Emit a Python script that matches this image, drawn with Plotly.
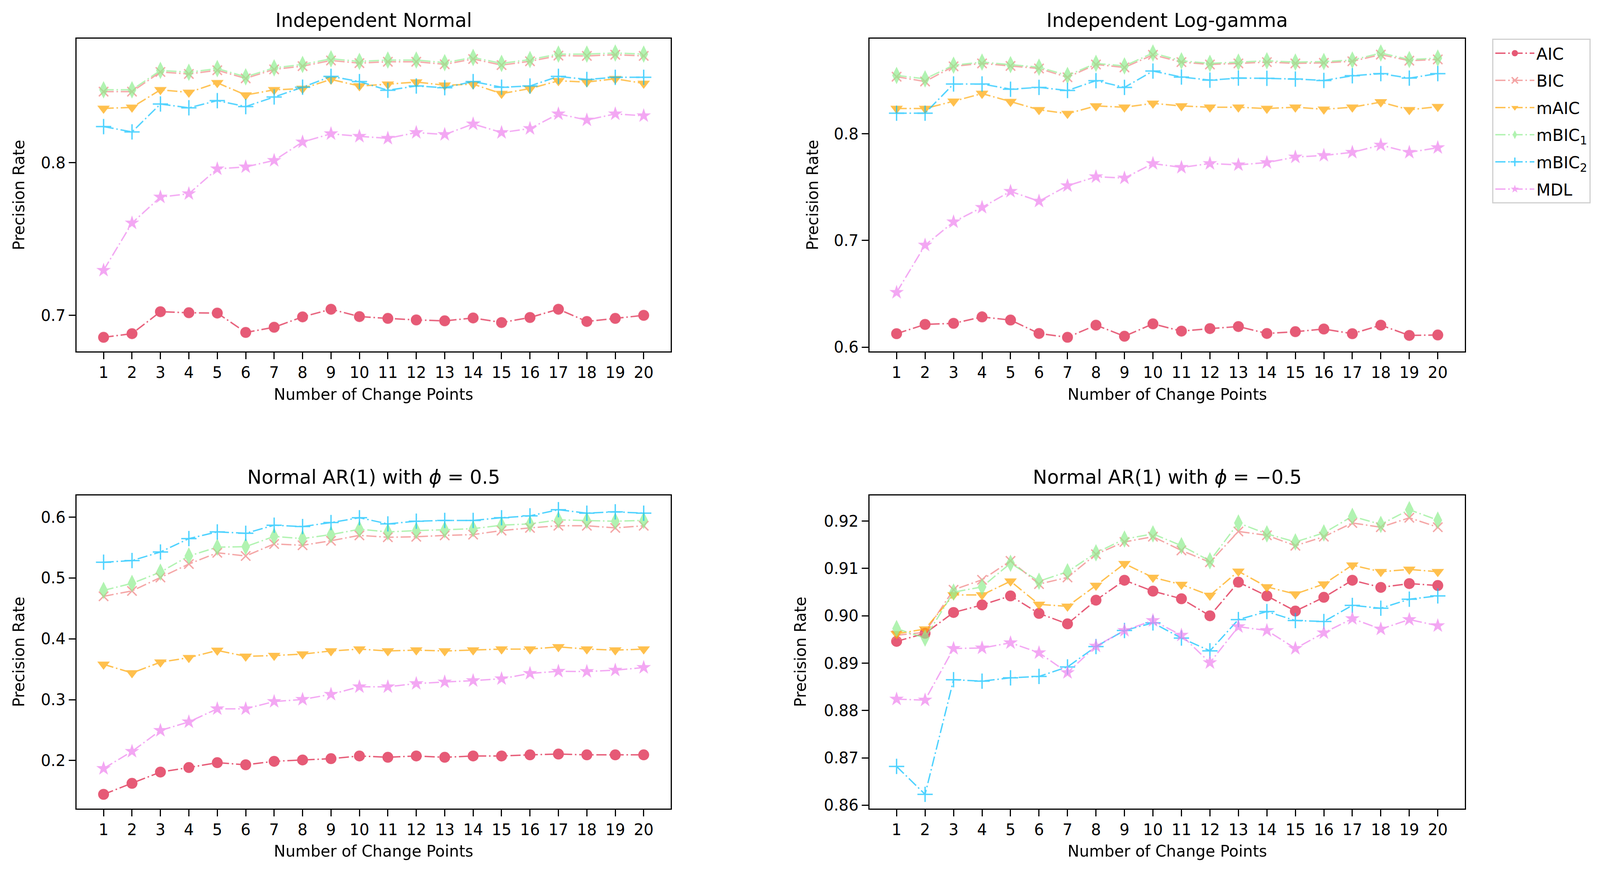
import plotly.graph_objects as go

W, H = 4140, 2236
x_vals = list(range(1, 21))
x_ticks = [str(i) for i in x_vals]
methods = ["AIC", "BIC", "mAIC", "mBIC<sub>1</sub>", "mBIC<sub>2</sub>", "MDL"]

# Panel 1: Independent Normal
in_aic = [0.6856, 0.688, 0.7024, 0.7017, 0.7015, 0.6888, 0.6922, 0.699, 0.704, 0.6992, 0.698, 0.697, 0.6964, 0.6983, 0.6953, 0.6986, 0.704, 0.696, 0.698, 0.700]
in_bic = [0.8466, 0.8466, 0.8595, 0.8582, 0.8606, 0.8553, 0.8612, 0.8633, 0.8670, 0.8653, 0.8662, 0.8662, 0.8645, 0.8680, 0.8640, 0.8665, 0.8702, 0.8700, 0.8708, 0.8700]
in_maic = [0.8356, 0.8363, 0.8478, 0.8461, 0.8524, 0.8444, 0.8478, 0.8486, 0.8546, 0.8503, 0.8515, 0.8529, 0.8508, 0.8515, 0.8453, 0.8486, 0.8537, 0.8529, 0.855, 0.852]
in_mbic1 = [0.8478, 0.8478, 0.8605, 0.8593, 0.8617, 0.8563, 0.8622, 0.8644, 0.8681, 0.8664, 0.8673, 0.8673, 0.8656, 0.869, 0.8651, 0.8676, 0.8712, 0.8712, 0.8719, 0.8712]
in_mbic2 = [0.8237, 0.8202, 0.8385, 0.836, 0.8407, 0.8368, 0.8431, 0.8495, 0.8566, 0.8532, 0.8475, 0.8503, 0.8492, 0.8532, 0.8495, 0.8503, 0.8566, 0.8546, 0.856, 0.856]
in_mdl = [0.7295, 0.7605, 0.7775, 0.7797, 0.796, 0.7973, 0.8015, 0.8136, 0.819, 0.8173, 0.816, 0.8198, 0.8185, 0.8254, 0.8198, 0.8224, 0.832, 0.828, 0.832, 0.8308]

# Panel 2: Independent Log-gamma
lg_aic = [0.6126, 0.6213, 0.6223, 0.6283, 0.6254, 0.6128, 0.6092, 0.6206, 0.6102, 0.6218, 0.615, 0.6174, 0.6193, 0.6128, 0.6145, 0.617, 0.6126, 0.6206, 0.611, 0.6114]
lg_bic = [0.8535, 0.8490, 0.8632, 0.8660, 0.8636, 0.8612, 0.8530, 0.8650, 0.8622, 0.8740, 0.8672, 0.8650, 0.8660, 0.8672, 0.8660, 0.8665, 0.8680, 0.8742, 0.8685, 0.8697]
lg_maic = [0.8237, 0.8237, 0.8305, 0.8377, 0.8302, 0.8225, 0.8189, 0.8261, 0.8249, 0.8285, 0.8261, 0.8249, 0.8249, 0.8237, 0.8249, 0.823, 0.8249, 0.8297, 0.8225, 0.8254]
lg_mbic1 = [0.8547, 0.8515, 0.8643, 0.8672, 0.8648, 0.8624, 0.8547, 0.866, 0.8636, 0.8757, 0.8684, 0.866, 0.8672, 0.8684, 0.8672, 0.8677, 0.8691, 0.8757, 0.8696, 0.8709]
lg_mbic2 = [0.8193, 0.8193, 0.8467, 0.8467, 0.8418, 0.8435, 0.8406, 0.8498, 0.8435, 0.8588, 0.8532, 0.8503, 0.8522, 0.852, 0.8513, 0.85, 0.8544, 0.8564, 0.8522, 0.8564]
lg_mdl = [0.6513, 0.6956, 0.7174, 0.731, 0.746, 0.7368, 0.7513, 0.7597, 0.7585, 0.7721, 0.7685, 0.7721, 0.7709, 0.773, 0.7782, 0.7797, 0.7826, 0.7894, 0.7826, 0.787]

# Panel 3: Normal AR(1) with phi = 0.5
ar5_aic = [0.1444, 0.1625, 0.181, 0.1885, 0.1965, 0.193, 0.1987, 0.2009, 0.2031, 0.2075, 0.2053, 0.2075, 0.2053, 0.2075, 0.2075, 0.2093, 0.2106, 0.2093, 0.2093, 0.2093]
ar5_bic = [0.47, 0.4788, 0.5009, 0.523, 0.5415, 0.5362, 0.556, 0.5538, 0.5613, 0.5701, 0.567, 0.5678, 0.5701, 0.5714, 0.578, 0.5824, 0.5859, 0.5859, 0.5824, 0.5859]
ar5_maic = [0.3581, 0.344, 0.3616, 0.3691, 0.381, 0.3713, 0.3726, 0.3749, 0.3801, 0.3832, 0.3801, 0.3815, 0.3801, 0.3815, 0.3832, 0.3832, 0.3868, 0.3832, 0.3815, 0.3832]
ar5_mbic1 = [0.4797, 0.4912, 0.5097, 0.5362, 0.5507, 0.5516, 0.5684, 0.5648, 0.5714, 0.5802, 0.5758, 0.578, 0.5793, 0.5811, 0.5868, 0.589, 0.5956, 0.5947, 0.5934, 0.5947]
ar5_mbic2 = [0.526, 0.5287, 0.5428, 0.5648, 0.5758, 0.5736, 0.5868, 0.5846, 0.5912, 0.5991, 0.589, 0.5934, 0.5947, 0.5947, 0.5991, 0.6022, 0.6123, 0.6066, 0.6088, 0.6066]
ar5_mdl = [0.1868, 0.215, 0.2494, 0.2635, 0.285, 0.285, 0.297, 0.3004, 0.3088, 0.3212, 0.3212, 0.3265, 0.3291, 0.3313, 0.3344, 0.3432, 0.3467, 0.3463, 0.3485, 0.3529]

# Panel 4: Normal AR(1) with phi = -0.5
arm5_aic = [0.8946, 0.8963, 0.9007, 0.9023, 0.9042, 0.9005, 0.8983, 0.9033, 0.9075, 0.9052, 0.9036, 0.9000, 0.9071, 0.9042, 0.9010, 0.9039, 0.9075, 0.9060, 0.9068, 0.9064]
arm5_bic = [0.8959, 0.8965, 0.9055, 0.9076, 0.9116, 0.9067, 0.9081, 0.9130, 0.9156, 0.9167, 0.9138, 0.9113, 0.9178, 0.9170, 0.9148, 0.9167, 0.9196, 0.9187, 0.9207, 0.9187]
arm5_maic = [0.8962, 0.8972, 0.9044, 0.9044, 0.9073, 0.9024, 0.9020, 0.9064, 0.9110, 0.9081, 0.9066, 0.9043, 0.9094, 0.9061, 0.9046, 0.9067, 0.9107, 0.9093, 0.9098, 0.9093]
arm5_mbic1 = [0.8973, 0.8953, 0.9050, 0.9061, 0.9111, 0.9073, 0.9093, 0.9133, 0.9162, 0.9173, 0.9148, 0.9116, 0.9196, 0.9173, 0.9156, 0.9175, 0.9210, 0.9193, 0.9224, 0.9202]
arm5_mbic2 = [0.8682, 0.8623, 0.8865, 0.8862, 0.8869, 0.8872, 0.8892, 0.8935, 0.8969, 0.8985, 0.8953, 0.8926, 0.8992, 0.9009, 0.8990, 0.8988, 0.9022, 0.9016, 0.9035, 0.9042]
arm5_mdl = [0.8824, 0.8822, 0.8931, 0.8932, 0.8943, 0.8922, 0.8880, 0.8936, 0.8969, 0.8990, 0.8959, 0.8901, 0.8977, 0.8969, 0.8931, 0.8964, 0.8994, 0.8972, 0.8992, 0.8979]

panel_titles = ["Independent Normal", "Independent Log-gamma",
                "Normal AR(1) with <i>ϕ</i> = 0.5", "Normal AR(1) with <i>ϕ</i> = −0.5"]
panel_data = [
    [in_aic, in_bic, in_maic, in_mbic1, in_mbic2, in_mdl],
    [lg_aic, lg_bic, lg_maic, lg_mbic1, lg_mbic2, lg_mdl],
    [ar5_aic, ar5_bic, ar5_maic, ar5_mbic1, ar5_mbic2, ar5_mdl],
    [arm5_aic, arm5_bic, arm5_maic, arm5_mbic1, arm5_mbic2, arm5_mdl],
]
y_tickvals = [[0.7, 0.8], [0.6, 0.7, 0.8], [0.2, 0.3, 0.4, 0.5, 0.6],
              [0.86, 0.87, 0.88, 0.89, 0.90, 0.91, 0.92]]
y_ticktext = [["0.7", "0.8"], ["0.6", "0.7", "0.8"], ["0.2", "0.3", "0.4", "0.5", "0.6"],
              ["0.86", "0.87", "0.88", "0.89", "0.90", "0.91", "0.92"]]

colors = ["#DC143C", "#F08080", "#FFA500", "#90EE90", "#00BFFF", "#EE82EE"]
symbols = ["circle", "x-thin", "triangle-down", "diamond-tall", "cross-thin", "star"]
sizes = [28, 24, 28, 32, 28, 28]

FONT = "DejaVu Sans"

# pixel boxes of plot areas (left, right, top, bottom)
boxes = [(188, 1709, 92, 898), (2218, 3742, 92, 898),
         (188, 1709, 1269, 2076), (2218, 3742, 1269, 2076)]
ylab_px = [40, 2072, 40, 2041]

fig = go.Figure()
annotations = []
for p in range(4):
    l, r, t, b = boxes[p]
    xa = "x" if p == 0 else f"x{p+1}"
    ya = "y" if p == 0 else f"y{p+1}"
    allv = [v for s in panel_data[p] for v in s]
    lo, hi = min(allv), max(allv)
    pad = (hi - lo) * 0.05
    for k in range(6):
        sym = symbols[k]
        thin = sym.endswith("-thin")
        marker = dict(symbol=sym, size=sizes[k], color=colors[k],
                      line=dict(width=3.5 if thin else 0, color=colors[k]))
        fig.add_trace(go.Scatter(
            x=x_vals, y=panel_data[p][k], mode="lines+markers",
            name=methods[k], legendgroup=methods[k], showlegend=(p == 1),
            line=dict(color=colors[k], width=3.5, dash="26px,7px,4px,7px"),
            marker=marker, opacity=0.7, xaxis=xa, yaxis=ya))
    axis_common = dict(showline=True, mirror=True, linecolor="black", linewidth=3,
                       ticks="outside", ticklen=17, tickwidth=3, tickcolor="black",
                       showgrid=False, zeroline=False,
                       tickfont=dict(family=FONT, size=40, color="black"))
    fig.update_layout({
        ("xaxis" if p == 0 else f"xaxis{p+1}"): dict(
            domain=[l / W, r / W], anchor=ya, range=[0.05, 20.95],
            tickvals=x_vals, ticktext=x_ticks, **axis_common),
        ("yaxis" if p == 0 else f"yaxis{p+1}"): dict(
            domain=[1 - b / H, 1 - t / H], anchor=xa, range=[lo - pad, hi + pad],
            tickvals=y_tickvals[p], ticktext=y_ticktext[p], **axis_common),
    })
    cx = (l + r) / 2 / W
    annotations.append(dict(text=panel_titles[p], x=cx, y=1 - (t - 47) / H,
                            xref="paper", yref="paper", showarrow=False,
                            xanchor="center", yanchor="middle",
                            font=dict(family=FONT, size=49, color="black")))
    annotations.append(dict(text="Number of Change Points", x=cx, y=1 - (b + 110) / H,
                            xref="paper", yref="paper", showarrow=False,
                            xanchor="center", yanchor="middle",
                            font=dict(family=FONT, size=40, color="black")))
    annotations.append(dict(text="Precision Rate", x=ylab_px[p] / W, y=1 - (t + b) / 2 / H,
                            xref="paper", yref="paper", showarrow=False, textangle=-90,
                            xanchor="center", yanchor="middle",
                            font=dict(family=FONT, size=40, color="black")))

fig.update_layout(
    width=W, height=H, margin=dict(l=0, r=0, t=0, b=0),
    paper_bgcolor="white", plot_bgcolor="white",
    annotations=annotations,
    legend=dict(x=3812 / W, y=1 - 92 / H, xanchor="left", yanchor="top",
                bgcolor="white", bordercolor="#d0d0d0", borderwidth=3,
                font=dict(family=FONT, size=42, color="black"),
                itemwidth=100, tracegroupgap=12),
)

fig.write_html("out.html")
